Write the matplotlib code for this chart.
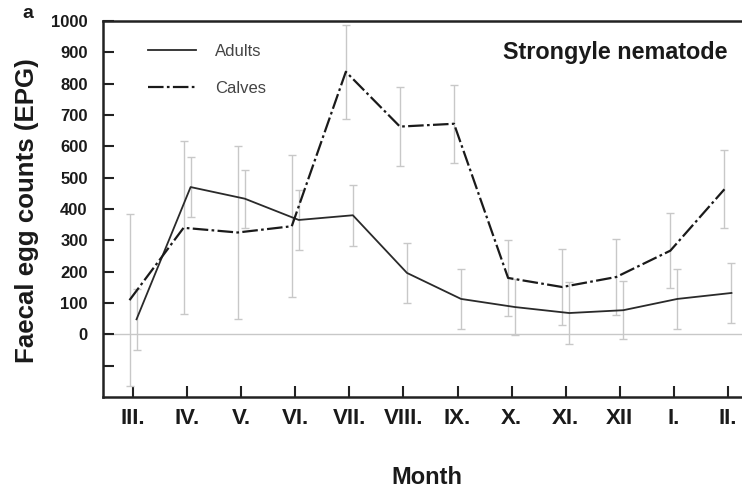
import matplotlib
matplotlib.use("Agg")
import matplotlib.pyplot as plt
import numpy as np

months = ["III.", "IV.", "V.", "VI.", "VII.", "VIII.", "IX.", "X.", "XI.", "XII", "I.", "II."]
adults = [48, 470, 433, 365, 380, 196, 113, 87, 68, 77, 113, 132]
adults_err = [97, 97, 93, 95, 97, 96, 97, 90, 100, 93, 95, 96]
calves = [109, 340, 325, 345, 838, 663, 672, 180, 151, 183, 267, 463]
calves_err = [274, 276, 276, 226, 150, 125, 125, 121, 120, 122, 120, 125]
yticks = [1000, 900, 800, 700, 600, 500, 400, 300, 200, 100, 0, -100]
ytick_labels = ["1000", "900", "800", "700", "600", "500", "400", "300", "200", "100", "0", ""]

plt.rcParams['font.family'] = ['Liberation Sans', 'DejaVu Sans']

fig = plt.figure(figsize=(7.42, 4.92), dpi=100)
ax = fig.add_axes([103/742, 95/492, 1 - 103/742, (397-21)/492])

x = np.arange(len(months))
off = 0.065
ecol = '#c8c8c8'
ax.axhline(0, color='#c8c8c8', lw=1.0, zorder=1)
ax.errorbar(x - off, calves, yerr=calves_err, fmt='none', ecolor=ecol, elinewidth=1.0, capsize=3, capthick=1.0, zorder=2)
ax.errorbar(x + off, adults, yerr=adults_err, fmt='none', ecolor=ecol, elinewidth=1.0, capsize=3, capthick=1.0, zorder=2)
ax.plot(x + off, adults, color='#2a2a2a', lw=1.3, label='Adults', zorder=3)
ax.plot(x - off, calves, color='#1a1a1a', lw=1.6, linestyle=(0, (7, 1.5, 1.2, 1.5)), label='Calves', zorder=3)

ax.set_xlim(-0.555, 11.26)
ax.set_ylim(-200, 1000)
ax.set_xticks(x)
ax.set_xticklabels(months, fontsize=16, fontweight='bold', color='#1a1a1a')
ax.set_yticks(yticks)
ax.set_yticklabels(ytick_labels, fontsize=12, fontweight='bold', color='#1a1a1a')
ax.tick_params(axis='both', direction='in', length=8, width=1.5, color='#222222')
ax.tick_params(axis='x', pad=8)
ax.tick_params(axis='y', pad=11)
ax.spines['right'].set_visible(False)
for s in ['left', 'bottom', 'top']:
    ax.spines[s].set_linewidth(1.8)
    ax.spines[s].set_color('#222222')

leg = ax.legend(loc='upper left', bbox_to_anchor=(0.047, 0.98), frameon=False, fontsize=12,
                handlelength=2.9, handletextpad=1.1, labelspacing=1.35)
for t in leg.get_texts():
    t.set_color('#444444')

fig.text(503/742, 1 - 53/492, "Strongyle nematode", ha='left', va='center', fontsize=16.8, fontweight='bold', color='#1a1a1a')
fig.text(27/742, 1 - 211/492, "Faecal egg counts (EPG)", rotation=90, ha='center', va='center', fontsize=18.6, fontweight='bold', color='#1a1a1a')
fig.text(427/742, 1 - 478/492, "Month", ha='center', va='center', fontsize=17, fontweight='bold', color='#1a1a1a')
fig.text(28/742, 1 - 14/492, "a", ha='center', va='center', fontsize=14, fontweight='bold', color='#1a1a1a')

fig.savefig("out.png", dpi=100)
